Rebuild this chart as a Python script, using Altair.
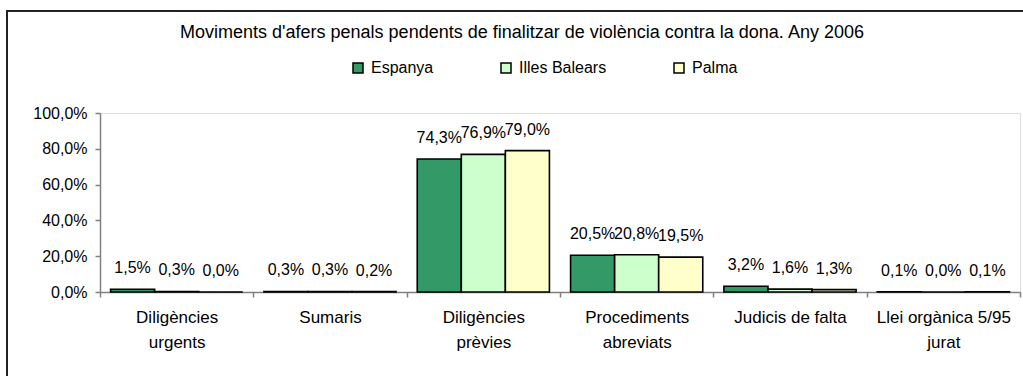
import altair as alt
import pandas as pd

# Categories, series and percentage values
title_text = "Moviments d'afers penals pendents de finalitzar de violència contra la dona. Any 2006"
categories = [
    "Diligències urgents",
    "Sumaris",
    "Diligències prèvies",
    "Procediments abreviats",
    "Judicis de falta",
    "Llei orgànica 5/95 jurat",
]
category_lines = [
    ["Diligències", "urgents"],
    ["Sumaris"],
    ["Diligències", "prèvies"],
    ["Procediments", "abreviats"],
    ["Judicis de falta"],
    ["Llei orgànica 5/95", "jurat"],
]
series = ["Espanya", "Illes Balears", "Palma"]
espanya = [1.5, 0.3, 74.3, 20.5, 3.2, 0.1]
illes_balears = [0.3, 0.3, 76.9, 20.8, 1.6, 0.0]
palma = [0.0, 0.2, 79.0, 19.5, 1.3, 0.1]
colors = ["#339966", "#CCFFCC", "#FFFFCC"]
y_ticks = [0, 20, 40, 60, 80, 100]

rows = []
for name, vals in zip(series, [espanya, illes_balears, palma]):
    for cat, v in zip(categories, vals):
        rows.append({
            "categoria": cat,
            "serie": name,
            "valor": v,
            "etiqueta": f"{v:.1f}".replace(".", ",") + "%",
        })
df = pd.DataFrame(rows)

# Multi-line category labels
label_map = "{" + ", ".join(
    "'" + c + "': [" + ", ".join("'" + l + "'" for l in ls) + "]"
    for c, ls in zip(categories, category_lines)
) + "}"

FONT = "Liberation Sans"

x_axis = alt.Axis(
    title=None,
    labelAngle=0,
    labelExpr=label_map + "[datum.label]",
    labelFontSize=17,
    labelLineHeight=25,
    labelPadding=12,
    labelColor="black",
    labelFont=FONT,
    tickBand="extent",
    tickSize=5,
    tickColor="#808080",
    domainColor="#808080",
    domainWidth=1.5,
    tickWidth=1.5,
)
y_axis = alt.Axis(
    title=None,
    values=y_ticks,
    grid=False,
    labelOverlap=False,
    labelFlush=False,
    labelExpr="replace(format(datum.value, '.1f'), '.', ',') + '%'",
    labelFontSize=16,
    labelColor="black",
    labelFont=FONT,
    labelPadding=8,
    tickSize=5,
    tickColor="#808080",
    domainColor="#808080",
    domainWidth=1.5,
    tickWidth=1.5,
)
x_scale = alt.Scale(paddingInner=0, paddingOuter=0)
xoff_scale = alt.Scale(paddingInner=0, paddingOuter=0.24)
y_scale = alt.Scale(domain=[0, 100])

bars = alt.Chart(df).mark_bar(stroke="black", strokeWidth=1.6).encode(
    x=alt.X("categoria:N", sort=categories, scale=x_scale, axis=x_axis),
    xOffset=alt.XOffset("serie:N", sort=series, scale=xoff_scale),
    y=alt.Y("valor:Q", scale=y_scale, axis=y_axis),
    color=alt.Color(
        "serie:N",
        sort=series,
        scale=alt.Scale(domain=series, range=colors),
        legend=alt.Legend(
            title=None,
            orient="none",
            direction="horizontal",
            legendX=250,
            legendY=-53,
            symbolType="square",
            symbolSize=100,
            symbolStrokeColor="black",
            symbolStrokeWidth=1.5,
            symbolOpacity=1,
            labelFontSize=16,
            labelFont=FONT,
            labelColor="black",
            columnPadding=64,
            labelOffset=5,
        ),
    ),
)

labels = alt.Chart(df).mark_text(
    dy=-21, fontSize=16, font=FONT, color="black", baseline="middle"
).encode(
    x=alt.X("categoria:N", sort=categories, scale=x_scale, axis=x_axis),
    xOffset=alt.XOffset("serie:N", sort=series, scale=xoff_scale),
    y=alt.Y("valor:Q", scale=y_scale, axis=y_axis),
    text="etiqueta:N",
)

# Outer chart frame and heading
frame = alt.Chart(pd.DataFrame({"k": [0]})).mark_rect(
    fill=None, stroke="#222222", strokeWidth=2
).encode(
    x=alt.value(-93), x2=alt.value(1200),
    y=alt.value(-102), y2=alt.value(600),
)

heading = alt.Chart(pd.DataFrame({"t": [title_text]})).mark_text(
    fontSize=18, font=FONT, color="black", baseline="middle", align="center"
).encode(
    x=alt.value(422), y=alt.value(-80), text="t:N",
)

chart = alt.layer(frame, heading, bars, labels).properties(
    width=920,
    height=179,
    autosize=alt.AutoSizeParams(type="none"),
    padding={"left": 100, "top": 113, "right": 3, "bottom": 84},
).configure_view(strokeWidth=0).configure(background="white")

chart.save("out.html", embed_options={"renderer": "svg", "actions": False})
